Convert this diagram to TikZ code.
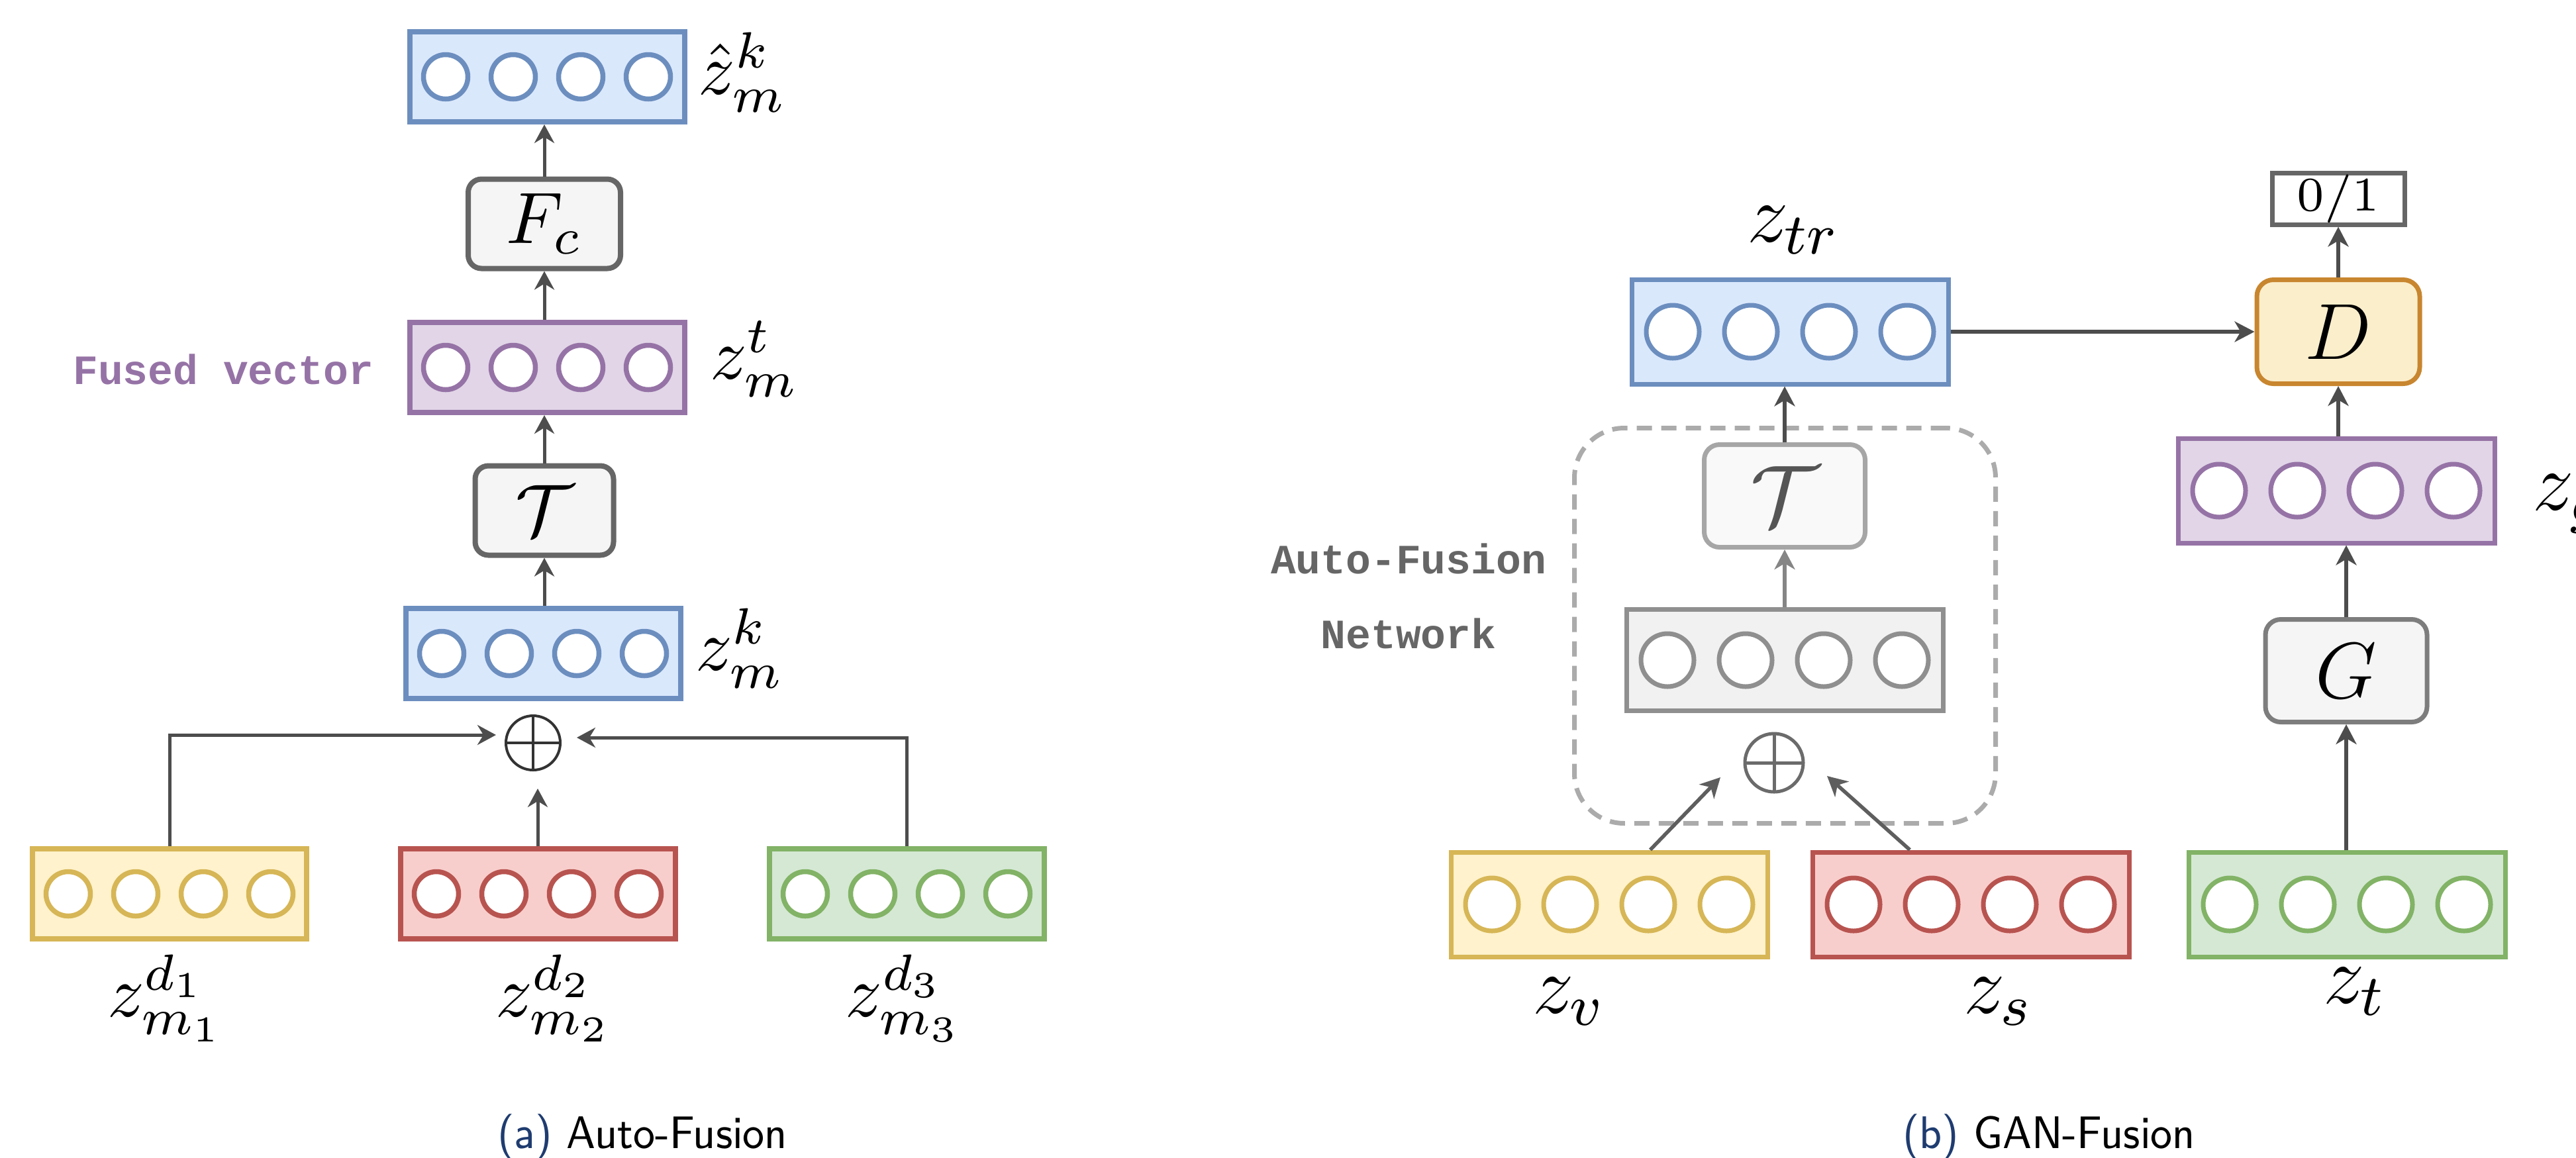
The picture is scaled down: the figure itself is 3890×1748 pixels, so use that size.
\RequirePackage{fix-cm}
\documentclass[tikz,border=0pt]{standalone}
\usepackage{fontspec}
\usepackage{graphicx}
\usetikzlibrary{arrows.meta,calc}
\newfontfamily\codefont{Liberation Mono}

\definecolor{blueline}{HTML}{6C8EBF}\definecolor{bluefill}{HTML}{DAE8FC}
\definecolor{purpleline}{HTML}{9673A6}\definecolor{purplefill}{HTML}{E1D5E7}
\definecolor{yellowline}{HTML}{D6B656}\definecolor{yellowfill}{HTML}{FFF2CC}
\definecolor{redline}{HTML}{B85450}\definecolor{redfill}{HTML}{F8CECC}
\definecolor{greenline}{HTML}{82B366}\definecolor{greenfill}{HTML}{D5E8D4}
\definecolor{greyline}{HTML}{8F8F8F}\definecolor{greyfill}{HTML}{F1F1F1}
\definecolor{arrowcol}{HTML}{4D4D4D}
\definecolor{midarrow}{HTML}{5E5E5E}
\definecolor{fadearrow}{HTML}{858585}
\definecolor{opline}{HTML}{666666}\definecolor{opfill}{HTML}{F5F5F5}
\definecolor{fadeline}{HTML}{A6A6A6}\definecolor{fadefill}{HTML}{F9F9F9}
\definecolor{fadetext}{HTML}{555555}
\definecolor{dline}{HTML}{C8862F}\definecolor{dfill}{HTML}{FBEECB}
\definecolor{dashcol}{HTML}{ABABAB}
\definecolor{afngrey}{HTML}{666666}
\definecolor{capblue}{HTML}{1F3C70}
\definecolor{sumdark}{HTML}{333333}
\definecolor{sumgrey}{HTML}{6B6B6B}

% a layer vector: framed box holding four unit circles
\newcommand\vecrow[6]{%
  \node[vbox=#3, #4] (#1) at #2 {};
  \foreach \k in {-1.5,-0.5,0.5,1.5}
    \node[cell=#3, #5] at ($(#1.center)+(\k*#6,0)$) {};
}

\begin{document}
\begin{tikzpicture}[x=0.1pt,y=-0.1pt,
  vbox/.style={draw=#1line, fill=#1fill, inner sep=0pt},
  cell/.style={circle, draw=#1line, fill=white, inner sep=0pt},
  lvec/.style={minimum width=41.5pt, minimum height=13.6pt, line width=0.8pt},
  lcell/.style={minimum size=6.7pt, line width=0.75pt},
  rvec/.style={minimum width=47.8pt, minimum height=15.8pt, line width=0.7pt},
  rcell/.style={minimum size=8pt, line width=0.7pt},
  larr/.style={draw=arrowcol, line width=0.5pt,
    -{Stealth[length=2.8pt,width=3pt,inset=0.9pt]}},
  rarr/.style={draw=arrowcol, line width=0.55pt,
    -{Stealth[length=3pt,width=3.1pt,inset=0.9pt]}},
  lop/.style={rounded corners=2pt, draw=opline, fill=opfill, line width=0.8pt,
    minimum height=13.5pt, inner sep=0pt, font=\fontsize{11pt}{13pt}\selectfont},
  rop/.style={rounded corners=2.3pt, line width=0.7pt, minimum width=24.4pt,
    minimum height=15.5pt, inner sep=0pt, font=\fontsize{12pt}{14pt}\selectfont},
  sumL/.style={circle, draw=sumdark, line width=0.4pt, minimum size=8.2pt, inner sep=0pt,
    path picture={\draw[sumdark, line width=0.4pt]
      (path picture bounding box.north) -- (path picture bounding box.south)
      (path picture bounding box.west) -- (path picture bounding box.east);}},
  sumR/.style={circle, draw=sumgrey, line width=0.5pt, minimum size=8.8pt, inner sep=0pt,
    path picture={\draw[sumgrey, line width=0.5pt]
      (path picture bounding box.north) -- (path picture bounding box.south)
      (path picture bounding box.west) -- (path picture bounding box.east);}},
  llab/.style={inner sep=0pt, font=\fontsize{11pt}{13pt}\selectfont},
  rlab/.style={inner sep=0pt, font=\fontsize{12.5pt}{15pt}\selectfont},
  codelab/.style={inner sep=0pt, font=\codefont\bfseries\fontsize{6.3pt}{7.5pt}\selectfont},
  caplab/.style={inner sep=0pt, font=\sffamily\fontsize{6.9pt}{8pt}\selectfont},
]
\useasboundingbox (0,0) rectangle (3890,1748);
\clip (0,0) rectangle (3890,1748);

% ---------------- (a) Auto-Fusion ----------------
\vecrow{zhat}{(826,116)}{blue}{lvec}{lcell}{102}
\node[lop, minimum width=23pt] (Fc) at (822,338) {$F_c$};
\vecrow{fused}{(826,555)}{purple}{lvec}{lcell}{102}
\node[lop, minimum width=20.9pt] (Tl) at (822,771) {$\mathcal{T}$};
\vecrow{zk}{(820,987)}{blue}{lvec}{lcell}{102}
\node[sumL] (sumA) at (805,1122) {};
\vecrow{ma}{(256,1350)}{yellow}{lvec}{lcell}{102}
\vecrow{mb}{(812,1350)}{red}{lvec}{lcell}{102}
\vecrow{mc}{(1369,1350)}{green}{lvec}{lcell}{102}

\draw[larr] (Fc.north) -- (Fc.north |- zhat.south);
\draw[larr] (Fc.south |- fused.north) -- (Fc.south);
\draw[larr] (Tl.north) -- (Tl.north |- fused.south);
\draw[larr] (Tl.south |- zk.north) -- (Tl.south);
\draw[larr, shorten >=1.3pt] (ma.north) |- ([yshift=1.2pt]sumA.west);
\draw[larr, shorten >=2.3pt] (mc.north) |- ([yshift=0.8pt]sumA.east);
\draw[larr, shorten >=2.6pt] (mb.north) -- (mb.north |- sumA.south);

\node[llab, anchor=base west] (lzhat) at (1052,142) {$\hat{z}^k_m$};
\node[llab, anchor=base west] (lzt) at (1070,572) {$z^t_m$};
\node[codelab, text=purpleline, anchor=base east] (fusedtxt) at (566,580) {Fused vector};
\node[llab, anchor=base west] (lzk) at (1048,1012) {$z^k_m$};
\node[llab, anchor=base west] (lma) at (160,1535) {$z^{d_1}_{m_1}$};
\node[llab, anchor=base west] (lmb) at (746,1535) {$z^{d_2}_{m_2}$};
\node[llab, anchor=base west] (lmc) at (1274,1535) {$z^{d_3}_{m_3}$};
\node[caplab, anchor=base] (capa) at (970,1734)
  {\scalebox{0.9}[1]{\textcolor{capblue}{(a)} Auto-Fusion}};

% ---------------- (b) GAN-Fusion ----------------
\node[draw=dashcol, line width=0.7pt, dash pattern=on 2.3pt off 1.4pt,
  rounded corners=7.5pt, minimum width=63.6pt, minimum height=59.7pt]
  (afn) at (2695.5,945) {};
\vecrow{ztr}{(2703,501)}{blue}{rvec}{rcell}{118}
\node[rop, draw=fadeline, fill=fadefill, text=fadetext, minimum width=24.3pt,
  font=\fontsize{13pt}{15pt}\selectfont] (Tr) at (2695,749) {$\mathcal{T}$};
\vecrow{gb}{(2695,997)}{grey}{rvec, minimum height=15.3pt}{rcell}{118}
\node[sumR] (sumB) at (2679,1152) {};
\vecrow{zv}{(2430,1366)}{yellow}{rvec}{rcell}{118}
\vecrow{zs}{(2976,1366)}{red}{rvec}{rcell}{118}
\vecrow{zt}{(3544,1366)}{green}{rvec}{rcell}{118}
\node[rop, draw=dline, fill=dfill, rounded corners=2.5pt, minimum width=24.6pt,
  minimum height=15.7pt] (D) at (3531,501) {$D$};
\node[draw=opline, line width=0.7pt, fill=white, minimum width=20pt, minimum height=7.8pt,
  inner sep=0pt, font=\fontsize{7.3pt}{9pt}\selectfont] (ob) at (3531,300) {$0/1$};
\vecrow{zg}{(3528,741)}{purple}{rvec}{rcell}{118}
\node[rop, draw=opline!85, fill=opfill] (G) at (3543,1013) {$G$};

\coordinate (tipv) at (2598,1174);
\coordinate (tips) at (2759,1172);
\draw[rarr] (Tr.north) -- (Tr.north |- ztr.south);
\draw[rarr, draw=fadearrow] (gb.north) -- (gb.north |- Tr.south);
\draw[rarr, draw=midarrow] ($(zv.north)+(62,0)$) -- (tipv);
\draw[rarr, draw=midarrow] ($(zs.north)+(-92,0)$) -- (tips);
\draw[rarr] (ztr.east) -- (D.west);
\draw[rarr] (D.north) -- (ob.south);
\draw[rarr] (D.south |- zg.north) -- (D.south);
\draw[rarr] (G.north) -- (G.north |- zg.south);
\draw[rarr] (G.south |- zt.north) -- (G.south);

\node[rlab, anchor=base west] (lztr) at (2636,365) {$z_{tr}$};
\node[rlab, anchor=base west] (lzg) at (3822,770) {$z_g$};
\node[rlab, anchor=base west] (lzv) at (2312,1530) {$z_v$};
\node[rlab, anchor=base west] (lzs) at (2963,1530) {$z_s$};
\node[rlab, anchor=base west] (lzt2) at (3506,1515) {$z_t$};
\node[codelab, text=afngrey, anchor=base] (afna) at (2127,866) {Auto-Fusion};
\node[codelab, text=afngrey, anchor=base] (afnb) at (2127,979) {Network};
\node[caplab, anchor=base] (capb) at (3094,1734)
  {\scalebox{0.9}[1]{\textcolor{capblue}{(b)} GAN-Fusion}};
\end{tikzpicture}
\end{document}
